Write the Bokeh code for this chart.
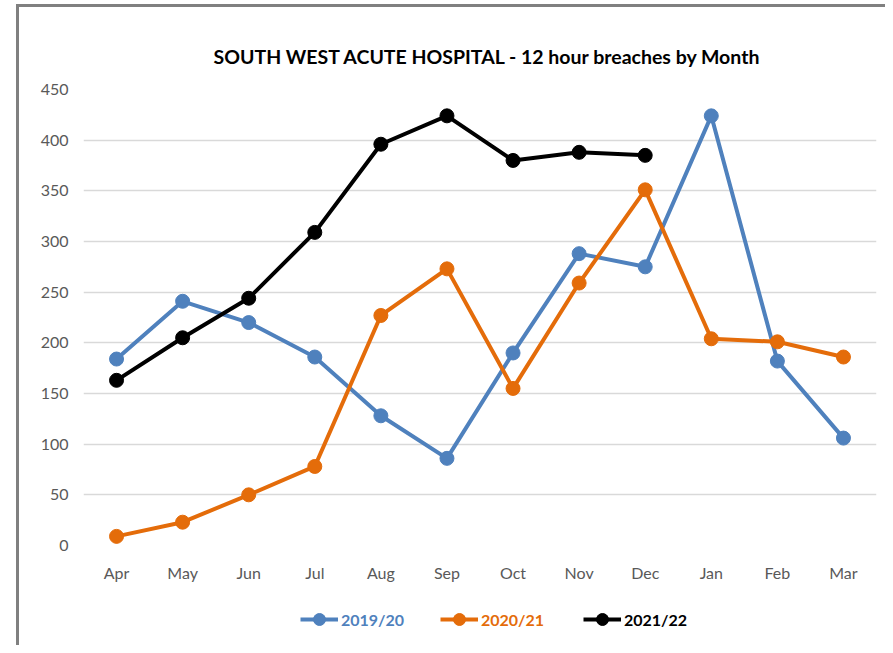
from bokeh.plotting import figure
from bokeh.layouts import column
from bokeh.models import Legend, LegendItem, Title, FactorRange, Range1d
from bokeh.embed import file_html
from bokeh.resources import INLINE

months = ["Apr", "May", "Jun", "Jul", "Aug", "Sep", "Oct", "Nov", "Dec", "Jan", "Feb", "Mar"]
y2019 = [184, 241, 220, 186, 128, 86, 190, 288, 275, 424, 182, 106]
y2020 = [9, 23, 50, 78, 227, 273, 155, 259, 351, 204, 201, 186]
months2021 = ["Apr", "May", "Jun", "Jul", "Aug", "Sep", "Oct", "Nov", "Dec"]
y2021 = [163, 205, 244, 309, 396, 424, 380, 388, 385]
series_names = ["2019/20", "2020/21", "2021/22"]
colors = ["#4F81BD", "#E46C0A", "#000000"]
title_text = "SOUTH WEST ACUTE HOSPITAL - 12 hour breaches by Month"
yticks = list(range(0, 451, 50))

FONT = "Lato"

p = figure(width=866, height=593, x_range=FactorRange(*months, range_padding=0),
           y_range=Range1d(0, 450), output_backend="svg", toolbar_location=None,
           min_border_left=64, min_border_right=9, min_border_top=82, min_border_bottom=55)
p.outline_line_color = None
p.background_fill_color = "white"
p.border_fill_color = "white"

p.title = Title(text=title_text, align="left", text_font=FONT, text_font_size="19.5px",
                text_font_style="bold", text_color="#000000", standoff=43, offset=130)

p.xgrid.grid_line_color = None
p.ygrid.grid_line_color = "#d9d9d9"
p.ygrid.grid_line_width = 1.5
p.yaxis.ticker = yticks

for ax in (p.xaxis[0], p.yaxis[0]):
    ax.axis_line_color = None
    ax.major_tick_line_color = None
    ax.minor_tick_line_color = None
    ax.major_tick_out = 0
    ax.major_tick_in = 0
    ax.major_label_text_font = FONT
    ax.major_label_text_font_size = "16px"
    ax.major_label_text_color = "#595959"
p.yaxis.major_label_standoff = 15
p.xaxis.major_label_standoff = 17

data = [(months, y2019), (months, y2020), (months2021, y2021)]
for (xs, ys), c in zip(data, colors):
    p.line(xs, ys, line_color=c, line_width=4)
    p.scatter(xs, ys, size=14, fill_color=c, line_color=c)

# legend strip below the chart; its renderers carry the series but the
# y range is kept away from the data so only the legend shows
lg = figure(width=866, height=45, output_backend="svg", toolbar_location=None,
            x_range=FactorRange(*months, range_padding=0), y_range=Range1d(1000, 1001),
            x_axis_location=None, y_axis_location=None,
            min_border_left=0, min_border_right=0, min_border_top=0, min_border_bottom=0)
lg.outline_line_color = None
lg.xgrid.grid_line_color = None
lg.ygrid.grid_line_color = None
lg.border_fill_color = "white"

legend_x = [217, 357, 500]
for name, c, lx, (xs, ys) in zip(series_names, colors, legend_x, data):
    l = lg.line(xs, ys, line_color=c, line_width=4)
    s = lg.scatter(xs, ys, size=14, fill_color=c, line_color=c)
    leg = Legend(items=[LegendItem(label=name, renderers=[l, s])], location=(lx, 11),
                 orientation="horizontal", padding=0, margin=0, spacing=0,
                 glyph_width=38, glyph_height=30, label_height=30, label_standoff=3,
                 label_text_font=FONT, label_text_font_size="16px", label_text_font_style="bold",
                 label_text_color=c, border_line_color=None, background_fill_alpha=0)
    lg.add_layout(leg, "center")

layout = column(p, lg, spacing=0,
                styles={"border-left": "3px solid #808080", "border-top": "3px solid #808080",
                        "margin-left": "16px", "margin-top": "4px"})

open("out.html", "w").write(file_html(layout, INLINE))
